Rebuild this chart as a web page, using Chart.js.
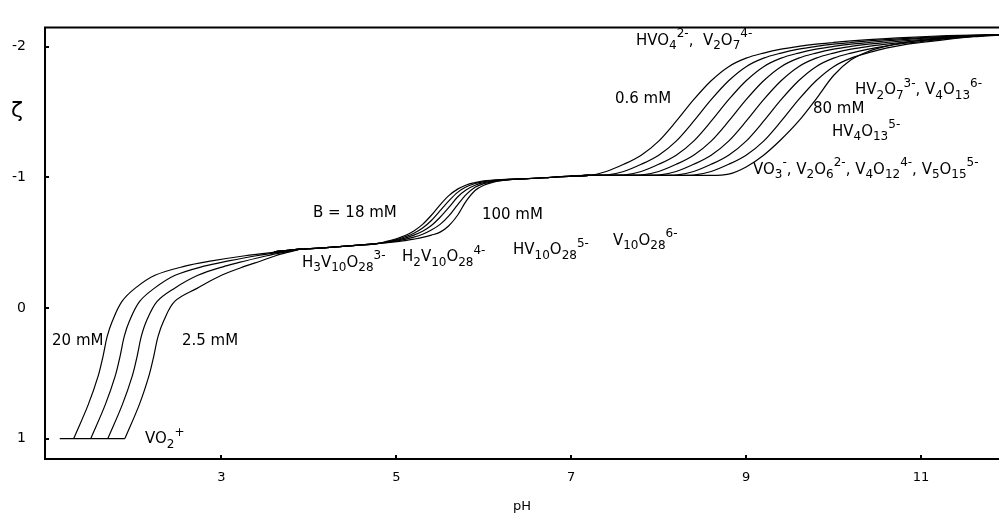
<!DOCTYPE html>
<html>
<head>
<meta charset="utf-8">
<script src="https://cdn.jsdelivr.net/npm/chart.js@4.4.1/dist/chart.umd.min.js"></script>
<style>
  html, body { margin: 0; padding: 0; background: #fff; }
  #wrap { width: 999px; height: 517px; }
</style>
</head>
<body>
<div id="wrap"><canvas id="speciationChart" width="999" height="517"></canvas></div>
<script>
// ---- data ----
const xTicks = [3, 5, 7, 9, 11];
const yTicks = [-2, -1, 0, 1];

// VO2+ baseline shared by the first-step curves
const basePH = [1.15, 1.895];
const baseZeta = [1, 1];

// first step: shared zeta levels, pH of each curve at those levels
const leftZeta = [1, 0.74, 0.52, 0.37, 0.22, 0.10, -0.05, -0.15, -0.25, -0.32, -0.36, -0.40, -0.43, -0.45];
const leftPH20 = [1.31, 1.476, 1.59, 1.645, 1.692, 1.752, 1.862, 2.01, 2.239, 2.582, 2.888, 3.269, 3.646, 3.9];
const leftPH10 = [1.505, 1.671, 1.785, 1.84, 1.887, 1.947, 2.064, 2.23, 2.47, 2.80, 3.08, 3.40, 3.70, 3.9];
const leftPH5 = [1.70, 1.866, 1.98, 2.035, 2.082, 2.142, 2.264, 2.46, 2.73, 3.04, 3.27, 3.52, 3.74, 3.9];
const leftPH2_5 = [1.895, 2.06, 2.17, 2.225, 2.274, 2.338, 2.465, 2.72, 3.0, 3.27, 3.45, 3.62, 3.78, 3.9];

// second step (decavanadates)
const midPH = [3.6, 3.9, 4.2, 4.5, 4.8, 4.9, 5.0, 5.1, 5.2, 5.3, 5.4, 5.5, 5.6, 5.7, 5.8, 5.9, 6.0, 6.1, 6.2, 6.3, 6.4, 6.7, 7.0, 7.2];
const mid1 = [-0.43, -0.45, -0.462, -0.477, -0.495, -0.512, -0.53, -0.555, -0.59, -0.64, -0.71, -0.79, -0.86, -0.91, -0.942, -0.96, -0.973, -0.979, -0.983, -0.986, -0.988, -0.997, -1.01, -1.015];
const mid2 = [-0.43, -0.45, -0.462, -0.477, -0.495, -0.508, -0.523, -0.545, -0.572, -0.612, -0.67, -0.745, -0.82, -0.885, -0.928, -0.953, -0.968, -0.976, -0.981, -0.985, -0.988, -0.997, -1.01, -1.015];
const mid3 = [-0.43, -0.45, -0.462, -0.477, -0.495, -0.505, -0.518, -0.535, -0.558, -0.588, -0.632, -0.695, -0.77, -0.85, -0.905, -0.94, -0.96, -0.972, -0.979, -0.984, -0.987, -0.997, -1.01, -1.015];
const mid4 = [-0.43, -0.45, -0.462, -0.477, -0.495, -0.502, -0.512, -0.525, -0.542, -0.565, -0.597, -0.64, -0.705, -0.79, -0.87, -0.925, -0.952, -0.967, -0.977, -0.983, -0.987, -0.997, -1.01, -1.015];
const mid5 = [-0.43, -0.45, -0.462, -0.477, -0.495, -0.5, -0.508, -0.516, -0.527, -0.54, -0.558, -0.581, -0.63, -0.71, -0.82, -0.9, -0.94, -0.962, -0.975, -0.983, -0.987, -0.997, -1.01, -1.015];

// third step, 0.6 mM (left) .. 80 mM (right)
const rightPH = [7.0, 7.2, 7.4, 7.6, 7.8, 8.0, 8.2, 8.4, 8.6, 8.8, 9.0, 9.2, 9.4, 9.6, 9.8, 10.0, 10.2, 10.4, 10.6, 10.8, 11.0, 11.3, 11.6, 11.9];
const right1 = [-1.012, -1.015, -1.045, -1.10, -1.17, -1.278, -1.43, -1.595, -1.74, -1.848, -1.913, -1.952, -1.982, -2.003, -2.02, -2.033, -2.045, -2.055, -2.063, -2.07, -2.077, -2.085, -2.09, -2.093];
const right2 = [-1.012, -1.015, -1.018, -1.045, -1.10, -1.17, -1.278, -1.43, -1.595, -1.74, -1.848, -1.913, -1.952, -1.982, -2.003, -2.02, -2.033, -2.045, -2.055, -2.063, -2.07, -2.08, -2.088, -2.093];
const right3 = [-1.012, -1.015, -1.015, -1.018, -1.045, -1.10, -1.17, -1.278, -1.43, -1.595, -1.74, -1.848, -1.913, -1.952, -1.982, -2.003, -2.02, -2.033, -2.045, -2.055, -2.064, -2.076, -2.086, -2.093];
const right4 = [-1.012, -1.015, -1.015, -1.015, -1.018, -1.045, -1.10, -1.17, -1.278, -1.43, -1.595, -1.74, -1.848, -1.913, -1.952, -1.982, -2.003, -2.02, -2.033, -2.045, -2.056, -2.072, -2.084, -2.092];
const right5 = [-1.012, -1.015, -1.015, -1.015, -1.015, -1.018, -1.045, -1.10, -1.17, -1.278, -1.43, -1.595, -1.74, -1.848, -1.913, -1.952, -1.982, -2.003, -2.02, -2.035, -2.048, -2.067, -2.082, -2.092];
const right6 = [-1.012, -1.015, -1.015, -1.015, -1.015, -1.015, -1.018, -1.045, -1.10, -1.17, -1.278, -1.43, -1.595, -1.74, -1.848, -1.913, -1.952, -1.982, -2.005, -2.025, -2.04, -2.062, -2.08, -2.091];
const right7 = [-1.012, -1.015, -1.015, -1.015, -1.015, -1.015, -1.015, -1.018, -1.045, -1.10, -1.17, -1.278, -1.43, -1.595, -1.74, -1.848, -1.913, -1.955, -1.99, -2.015, -2.033, -2.057, -2.077, -2.09];
const right8 = [-1.012, -1.015, -1.015, -1.015, -1.015, -1.015, -1.015, -1.015, -1.015, -1.025, -1.08, -1.17, -1.29, -1.43, -1.6, -1.78, -1.9, -1.965, -2.005, -2.032, -2.05, -2.068, -2.082, -2.092];

// annotations: text, and pH / zeta of the left end of its baseline
const labelText = [
    'HVO_4^{2-},  V_2O_7^{4-}', '0.6 mM', 'HV_2O_7^{3-}, V_4O_{13}^{6-}', '80 mM', 'HV_4O_{13}^{5-}',
    'VO_3^-, V_2O_6^{2-}, V_4O_{12}^{4-}, V_5O_{15}^{5-}', 'B = 18 mM', '100 mM',
    'H_3V_{10}O_{28}^{3-}', 'H_2V_{10}O_{28}^{4-}', 'HV_{10}O_{28}^{5-}', 'V_{10}O_{28}^{6-}',
    '20 mM', '2.5 mM', 'VO_2^+'
];
const labelPH = [7.74, 7.50, 10.245, 9.765, 9.982, 9.079, 4.046, 5.979, 3.921, 5.064, 6.334, 7.477, 1.062, 2.548, 2.125];
const labelZeta = [-2.015, -1.569, -1.636, -1.495, -1.317, -1.027, -0.693, -0.685, -0.314, -0.359, -0.411, -0.485, 0.287, 0.287, 1.037];

const FONT = '"DejaVu Sans", "Liberation Sans", sans-serif';

function pairs(xs, ys) {
    return xs.map((x, i) => ({ x: x, y: ys[i] }));
}

function curve(label, points, smooth) {
    const ds = {
        label: label,
        data: points,
        borderColor: '#000',
        borderWidth: 1.2,
        pointRadius: 0,
        fill: false
    };
    if (smooth === 'monotone') {
        ds.cubicInterpolationMode = 'monotone';
    } else {
        ds.tension = 0.35;
    }
    return ds;
}

const datasets = [
    curve('VO2+', pairs(basePH, baseZeta), 'monotone'),
    curve('20 mM', pairs(leftPH20, leftZeta)),
    curve('10 mM', pairs(leftPH10, leftZeta)),
    curve('5 mM', pairs(leftPH5, leftZeta)),
    curve('2.5 mM', pairs(leftPH2_5, leftZeta)),
    curve('mid 1', pairs(midPH, mid1), 'monotone'),
    curve('mid 2', pairs(midPH, mid2), 'monotone'),
    curve('mid 3', pairs(midPH, mid3), 'monotone'),
    curve('mid 4', pairs(midPH, mid4), 'monotone'),
    curve('mid 5', pairs(midPH, mid5), 'monotone'),
    curve('0.6 mM', pairs(rightPH, right1), 'monotone'),
    curve('right 2', pairs(rightPH, right2), 'monotone'),
    curve('right 3', pairs(rightPH, right3), 'monotone'),
    curve('right 4', pairs(rightPH, right4), 'monotone'),
    curve('right 5', pairs(rightPH, right5), 'monotone'),
    curve('right 6', pairs(rightPH, right6), 'monotone'),
    curve('right 7', pairs(rightPH, right7), 'monotone'),
    curve('80 mM', pairs(rightPH, right8), 'monotone')
];

// text with _sub and ^sup parts
function drawRich(ctx, text, x, y, size) {
    const small = Math.round(size * 0.78);
    let cx = x;
    let i = 0;
    while (i < text.length) {
        const ch = text[i];
        if (ch === '_' || ch === '^') {
            i++;
            let part;
            if (text[i] === '{') {
                const j = text.indexOf('}', i);
                part = text.slice(i + 1, j);
                i = j + 1;
            } else {
                part = text[i];
                i++;
            }
            ctx.font = small + 'px ' + FONT;
            const dy = ch === '_' ? size * 0.3 : -size * 0.5;
            ctx.fillText(part, cx, y + dy);
            cx += ctx.measureText(part).width;
        } else {
            let j = i;
            while (j < text.length && text[j] !== '_' && text[j] !== '^') j++;
            const part = text.slice(i, j);
            ctx.font = size + 'px ' + FONT;
            ctx.fillText(part, cx, y);
            cx += ctx.measureText(part).width;
            i = j;
        }
    }
}

const framePlugin = {
    id: 'frame',
    afterDraw(chart) {
        const { ctx, chartArea: a, scales } = chart;
        ctx.save();
        ctx.strokeStyle = '#000';
        ctx.lineWidth = 2;
        ctx.beginPath();
        ctx.moveTo(a.right + 2, a.top);
        ctx.lineTo(a.left, a.top);
        ctx.lineTo(a.left, a.bottom);
        ctx.lineTo(a.right + 2, a.bottom);
        ctx.stroke();
        // inward tick marks
        ctx.beginPath();
        xTicks.forEach(v => {
            const px = Math.round(scales.x.getPixelForValue(v));
            ctx.moveTo(px, a.bottom);
            ctx.lineTo(px, a.bottom - 4);
        });
        yTicks.forEach(v => {
            const py = Math.round(scales.y.getPixelForValue(v));
            ctx.moveTo(a.left, py);
            ctx.lineTo(a.left + 4, py);
        });
        ctx.stroke();

        ctx.fillStyle = '#000';
        ctx.textBaseline = 'alphabetic';
        ctx.textAlign = 'left';
        labelText.forEach((t, i) => {
            const px = scales.x.getPixelForValue(labelPH[i]);
            const py = scales.y.getPixelForValue(labelZeta[i]);
            drawRich(ctx, t, px, py, 15);
        });

        // axis titles
        ctx.font = '22px ' + FONT;
        ctx.fillText('ζ', 11, 117);
        ctx.font = '13px ' + FONT;
        ctx.textAlign = 'center';
        ctx.fillText('pH', (a.left + a.right) / 2, 510);
        ctx.restore();
    }
};

const ctx = document.getElementById('speciationChart').getContext('2d');
const speciationChart = new Chart(ctx, {
    type: 'line',
    data: { datasets: datasets },
    plugins: [framePlugin],
    options: {
        responsive: false,
        animation: false,
        events: [],
        layout: { padding: { top: 14, left: 0, right: 0, bottom: 0 } },
        plugins: {
            legend: { display: false },
            tooltip: { enabled: false }
        },
        scales: {
            x: {
                type: 'linear',
                min: 0.9815,
                max: 11.892,
                grid: { display: false, drawTicks: false },
                border: { display: false },
                afterBuildTicks: scale => { scale.ticks = xTicks.map(v => ({ value: v })); },
                afterFit: scale => { scale.height = 58; },
                ticks: {
                    padding: 11,
                    color: '#000',
                    font: { family: FONT, size: 13 },
                    callback: v => String(v)
                }
            },
            y: {
                type: 'linear',
                reverse: true,
                min: -2.1485,
                max: 1.1565,
                grid: { display: false, drawTicks: false },
                border: { display: false },
                afterBuildTicks: scale => { scale.ticks = yTicks.map(v => ({ value: v })); },
                afterFit: scale => { scale.width = 45; },
                ticks: {
                    padding: 19,
                    color: '#000',
                    font: { family: FONT, size: 14 },
                    callback: v => String(v)
                }
            }
        }
    }
});
</script>
</body>
</html>
